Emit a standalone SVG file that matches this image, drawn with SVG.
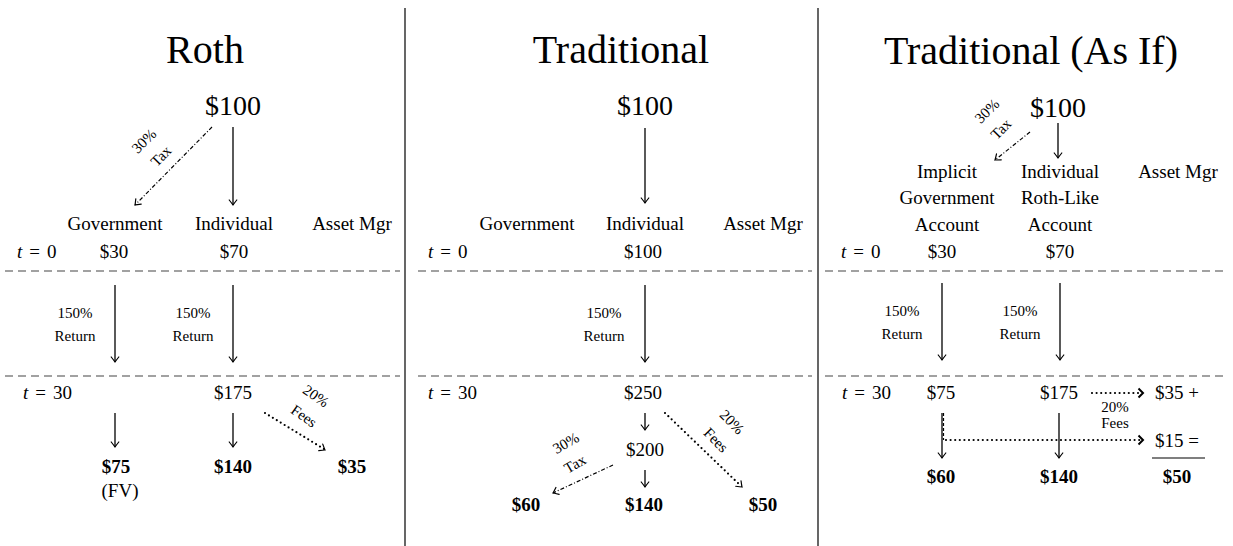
<svg xmlns="http://www.w3.org/2000/svg" width="1233" height="546" viewBox="0 0 1233 546">
<style>
text{font-family:"Liberation Serif","Times New Roman",serif;fill:#000}
.title{font-size:40px;text-anchor:middle}
.big{font-size:28px;text-anchor:middle}
.lab{font-size:19px;text-anchor:middle}
.lft{font-size:19px}
.b{font-weight:bold}
.sm{font-size:15px;text-anchor:middle}
.i{font-style:italic}
.sep{stroke:#000;stroke-width:1.2}
.dash{stroke:#444;stroke-width:1.2;stroke-dasharray:8 5;fill:none}
.arr{stroke:#000;stroke-width:1.3;fill:none;marker-end:url(#ah)}
.dd{stroke:#000;stroke-width:1.2;fill:none;stroke-dasharray:4 2 1 2;marker-end:url(#ah)}
.dot{stroke:#000;stroke-width:2.2;fill:none;stroke-dasharray:0 4.6;stroke-linecap:round}
.dotm{marker-end:url(#ah)}
.dotc{marker-end:url(#ch)}
</style>
<defs>
<marker id="ah" viewBox="-6 -5 8 10" refX="0" refY="0" markerWidth="8" markerHeight="10" markerUnits="userSpaceOnUse" orient="auto">
<path d="M-5,-3.8 Q-1.5,-1 0,0 Q-1.5,1 -5,3.8" fill="none" stroke="#000" stroke-width="1.2" stroke-linecap="round"/>
</marker>
<marker id="ch" viewBox="-6 -6 8 12" refX="0" refY="0" markerWidth="8" markerHeight="12" markerUnits="userSpaceOnUse" orient="auto">
<path d="M-4.5,-4.5 L0,0 L-4.5,4.5" fill="none" stroke="#000" stroke-width="2"/>
</marker>
</defs>

<g id="separators">
<line class="sep" x1="405" y1="8" x2="405" y2="546"/>
<line class="sep" x1="818" y1="8" x2="818" y2="546"/>
<line class="dash" x1="5" y1="271" x2="400" y2="271"/>
<line class="dash" x1="5" y1="376" x2="400" y2="376"/>
<line class="dash" x1="418" y1="271" x2="812" y2="271"/>
<line class="dash" x1="418" y1="376" x2="812" y2="376"/>
<line class="dash" x1="825" y1="271" x2="1228" y2="271"/>
<line class="dash" x1="825" y1="376" x2="1228" y2="376"/>
<line x1="1152" y1="458" x2="1205" y2="458" stroke="#000" stroke-width="1.2"/>
</g>

<g id="connectors">
<line class="arr" x1="233" y1="127" x2="233" y2="205"/>
<line class="dd" x1="212" y1="127" x2="135" y2="205"/>
<line class="arr" x1="115" y1="285" x2="115" y2="362"/>
<line class="arr" x1="233" y1="285" x2="233" y2="362"/>
<line class="arr" x1="115" y1="413" x2="115" y2="447"/>
<line class="arr" x1="233" y1="413" x2="233" y2="447"/>
<line class="dot" x1="265" y1="413" x2="324" y2="449"/>
<line class="dotm" x1="265" y1="413" x2="325" y2="450" stroke="none"/>
<line class="arr" x1="645" y1="128" x2="645" y2="203"/>
<line class="arr" x1="645" y1="285" x2="645" y2="362"/>
<line class="arr" x1="645" y1="413" x2="645" y2="430"/>
<line class="arr" x1="645" y1="470" x2="645" y2="487"/>
<line class="dd" x1="613" y1="465" x2="553" y2="493"/>
<line class="dot" x1="665" y1="413" x2="741" y2="486"/>
<line class="dotm" x1="665" y1="413" x2="742" y2="487" stroke="none"/>
<line class="arr" x1="1058" y1="123" x2="1058" y2="158"/>
<line class="dd" x1="1030" y1="132" x2="995" y2="160"/>
<line class="arr" x1="942" y1="283" x2="942" y2="360"/>
<line class="arr" x1="1060" y1="283" x2="1060" y2="360"/>
<line class="arr" x1="942" y1="413" x2="942" y2="458"/>
<line x1="943.5" y1="413" x2="943.5" y2="440" stroke="#000" stroke-width="1.2" stroke-dasharray="3 2"/>
<line class="arr" x1="1059" y1="413" x2="1059" y2="458"/>
<line class="dot" x1="1092" y1="393" x2="1141" y2="393"/>
<line class="dotc" x1="1092" y1="393" x2="1143" y2="393" stroke="none"/>
<line class="dot" x1="946" y1="440" x2="1141" y2="440"/>
<line class="dotc" x1="946" y1="440" x2="1143" y2="440" stroke="none"/>
</g>

<g id="panel-roth">
<text id="roth-title" class="title" x="205" y="63">Roth</text>
<text id="roth-100" class="big" x="233" y="115">$100</text>
<g id="roth-tax-label">
<text class="sm" x="144" y="146" transform="rotate(-45 144 141)">30%</text>
<text class="sm" x="161" y="161" transform="rotate(-45 161 156)">Tax</text>
</g>
<text id="roth-gov" class="lab" x="115" y="230">Government</text>
<text id="roth-ind" class="lab" x="234" y="230">Individual</text>
<text id="roth-am" class="lab" x="352" y="230">Asset Mgr</text>
<text id="roth-t0" class="lft" x="17" y="258"><tspan class="i">t</tspan><tspan dx="7">=</tspan><tspan dx="7">0</tspan></text>
<text id="roth-30" class="lab" x="114" y="258">$30</text>
<text id="roth-70" class="lab" x="234" y="258">$70</text>
<g id="roth-ret1"><text class="sm" x="75" y="318">150%</text><text class="sm" x="75" y="341">Return</text></g>
<g id="roth-ret2"><text class="sm" x="193" y="318">150%</text><text class="sm" x="193" y="341">Return</text></g>
<text id="roth-t30" class="lft" x="23" y="399"><tspan class="i">t</tspan><tspan dx="7">=</tspan><tspan dx="7">30</tspan></text>
<text id="roth-175" class="lab" x="233" y="399">$175</text>
<g id="roth-fees-label">
<text class="sm" x="316" y="401" transform="rotate(35 316 396)">20%</text>
<text class="sm" x="304" y="421" transform="rotate(35 304 416)">Fees</text>
</g>
<text id="roth-75" class="lab b" x="116" y="473">$75</text>
<text id="roth-fv" class="lab" x="120" y="497">(FV)</text>
<text id="roth-140" class="lab b" x="233" y="473">$140</text>
<text id="roth-35" class="lab b" x="352" y="473">$35</text>
</g>

<g id="panel-trad">
<text id="trad-title" class="title" x="621" y="63">Traditional</text>
<text id="trad-100" class="big" x="645" y="115">$100</text>
<text id="trad-gov" class="lab" x="527" y="230">Government</text>
<text id="trad-ind" class="lab" x="645" y="230">Individual</text>
<text id="trad-am" class="lab" x="763" y="230">Asset Mgr</text>
<text id="trad-t0" class="lft" x="428" y="258"><tspan class="i">t</tspan><tspan dx="7">=</tspan><tspan dx="7">0</tspan></text>
<text id="trad-100b" class="lab" x="643" y="258">$100</text>
<g id="trad-ret"><text class="sm" x="604" y="318">150%</text><text class="sm" x="604" y="341">Return</text></g>
<text id="trad-t30" class="lft" x="428" y="399"><tspan class="i">t</tspan><tspan dx="7">=</tspan><tspan dx="7">30</tspan></text>
<text id="trad-250" class="lab" x="643" y="399">$250</text>
<text id="trad-200" class="lab" x="645" y="456">$200</text>
<g id="trad-tax-label">
<text class="sm" x="566" y="448" transform="rotate(-30 566 443)">30%</text>
<text class="sm" x="575" y="469" transform="rotate(-30 575 464)">Tax</text>
</g>
<g id="trad-fees-label">
<text class="sm" x="732" y="427" transform="rotate(45 732 422)">20%</text>
<text class="sm" x="716" y="445" transform="rotate(45 716 440)">Fees</text>
</g>
<text id="trad-60" class="lab b" x="526" y="511">$60</text>
<text id="trad-140" class="lab b" x="644" y="511">$140</text>
<text id="trad-50" class="lab b" x="763" y="511">$50</text>
</g>

<g id="panel-asif">
<text id="asif-title" class="title" x="1031" y="64">Traditional (As If)</text>
<text id="asif-100" class="big" x="1058" y="117">$100</text>
<g id="asif-tax-label">
<text class="sm" x="987" y="116" transform="rotate(-45 987 111)">30%</text>
<text class="sm" x="1001" y="134" transform="rotate(-45 1001 129)">Tax</text>
</g>
<g id="asif-gov"><text class="lab" x="947" y="178">Implicit</text><text class="lab" x="947" y="204">Government</text><text class="lab" x="947" y="231">Account</text></g>
<g id="asif-ind"><text class="lab" x="1060" y="178">Individual</text><text class="lab" x="1060" y="204">Roth-Like</text><text class="lab" x="1060" y="231">Account</text></g>
<text id="asif-am" class="lab" x="1178" y="178">Asset Mgr</text>
<text id="asif-t0" class="lft" x="841" y="258"><tspan class="i">t</tspan><tspan dx="7">=</tspan><tspan dx="7">0</tspan></text>
<text id="asif-30" class="lab" x="942" y="258">$30</text>
<text id="asif-70" class="lab" x="1060" y="258">$70</text>
<g id="asif-ret1"><text class="sm" x="902" y="316">150%</text><text class="sm" x="902" y="339">Return</text></g>
<g id="asif-ret2"><text class="sm" x="1020" y="316">150%</text><text class="sm" x="1020" y="339">Return</text></g>
<text id="asif-t30" class="lft" x="842" y="399"><tspan class="i">t</tspan><tspan dx="7">=</tspan><tspan dx="7">30</tspan></text>
<text id="asif-75" class="lab" x="941" y="399">$75</text>
<text id="asif-175" class="lab" x="1059" y="399">$175</text>
<text id="asif-35" class="lft" x="1155" y="399">$35 +</text>
<g id="asif-fees-label"><text class="sm" x="1115" y="412">20%</text><text class="sm" x="1115" y="428">Fees</text></g>
<text id="asif-15" class="lft" x="1155" y="447">$15 =</text>
<text id="asif-60" class="lab b" x="941" y="483">$60</text>
<text id="asif-140" class="lab b" x="1059" y="483">$140</text>
<text id="asif-50" class="lab b" x="1177" y="483">$50</text>
</g>
</svg>
